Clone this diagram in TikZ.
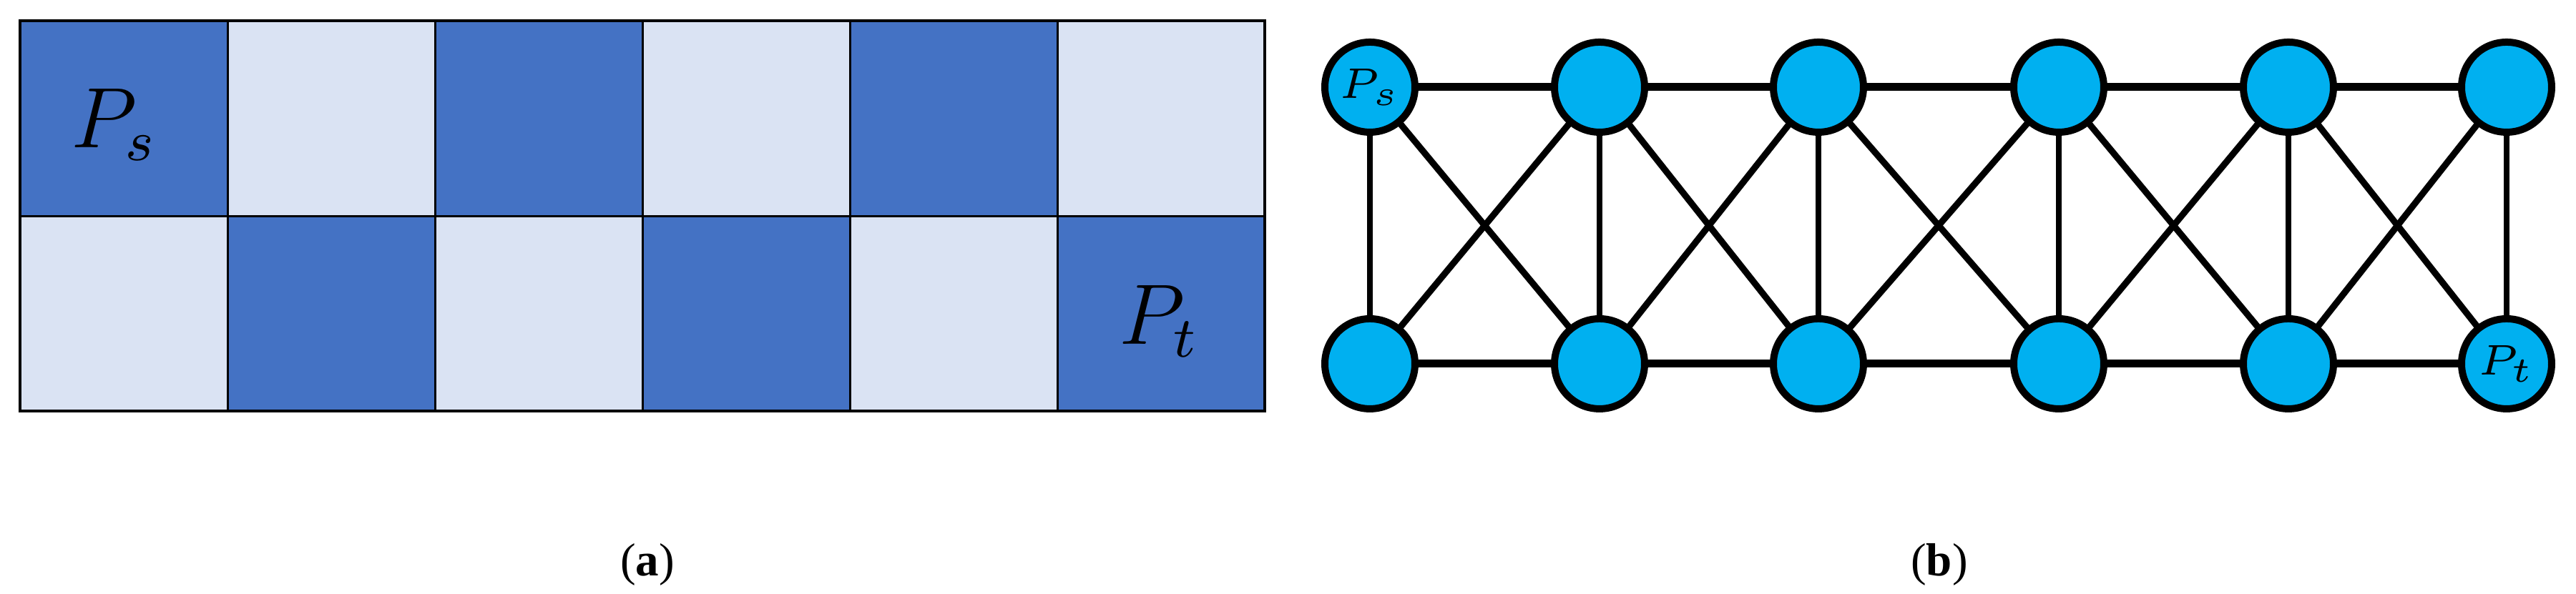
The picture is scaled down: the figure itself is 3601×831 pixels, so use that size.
\documentclass[tikz,border=0pt]{standalone}
\usepackage{fontspec}
\setmainfont{Liberation Serif}
\definecolor{dk}{HTML}{4472C4}
\definecolor{lt}{HTML}{DAE3F3}
\definecolor{nd}{HTML}{00B0F0}
\begin{document}
\begin{tikzpicture}[x=0.1pt,y=-0.1pt,
  vx/.style={circle,fill=nd,draw=black,line width=1pt,minimum size=12.6pt,inner sep=0pt,font=\fontsize{6.5}{7}\selectfont},
  ed/.style={line width=1.1pt},
  captxt/.style={font=\fontsize{6.5}{7}\selectfont}]
\useasboundingbox (0,0) rectangle (3601,831);
\foreach \c in {0,...,5}{
  \pgfmathtruncatemacro{\odd}{mod(\c,2)}
  \ifnum\odd=0
    \fill[dk] (28+\c*290,29) rectangle (28+\c*290+290,303);
    \fill[lt] (28+\c*290,303) rectangle (28+\c*290+290,575);
  \else
    \fill[lt] (28+\c*290,29) rectangle (28+\c*290+290,303);
    \fill[dk] (28+\c*290,303) rectangle (28+\c*290+290,575);
  \fi
}
\foreach \c in {1,...,5} \draw[line width=0.3pt] (28+\c*290,29) -- (28+\c*290,575);
\draw[line width=0.3pt] (28,303) -- (1768,303);
\draw[line width=0.4pt] (28,29) rectangle (1768,575);
\node[font=\fontsize{12}{14}\selectfont] (ps) at (160,175) {$P_s$};
\node[font=\fontsize{12}{14}\selectfont] (pt) at (1620,450) {$P_t$};
\node[captxt] (ca) at (905,790) {(\textbf{a})};
% graph
\foreach \i/\x in {1/1915,2/2236,3/2542,4/2878,5/3199,6/3504}{
  \coordinate (tc\i) at (\x,122);
  \coordinate (bc\i) at (\x,509);
}
\foreach \i in {1,...,5}{
  \pgfmathtruncatemacro{\j}{\i+1}
  \draw[ed] (tc\i) -- (tc\j);
  \draw[ed] (bc\i) -- (bc\j);
  \draw[line width=0.9pt] (tc\i) -- (bc\j);
  \draw[line width=0.9pt] (bc\i) -- (tc\j);
}
\foreach \i in {1,...,6} \draw[line width=0.8pt] (tc\i) -- (bc\i);
\foreach \i in {1,...,6}{
  \node[vx] (t\i) at (tc\i) {\ifnum\i=1 $P_s$\fi};
  \node[vx] (b\i) at (bc\i) {\ifnum\i=6 $P_t$\fi};
}
\node[captxt] (cb) at (2711,790) {(\textbf{b})};
\end{tikzpicture}
\end{document}
